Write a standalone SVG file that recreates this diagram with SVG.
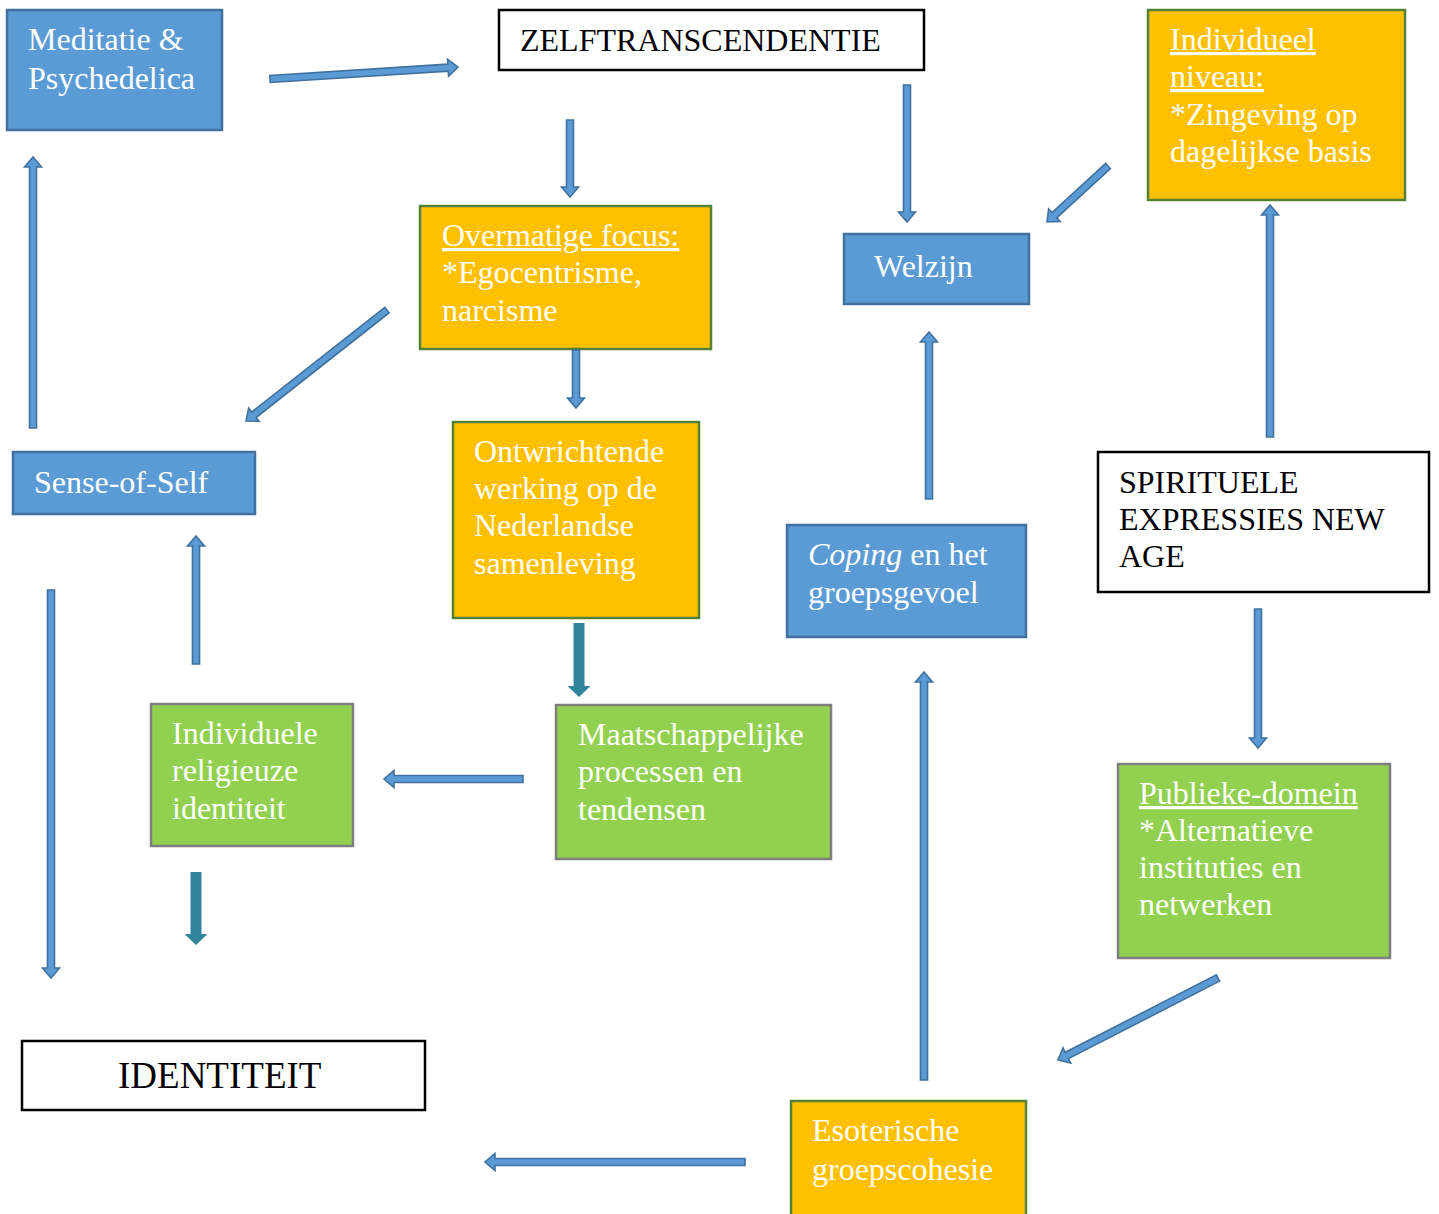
<svg xmlns="http://www.w3.org/2000/svg" width="1439" height="1214" viewBox="0 0 1439 1214">
<style>
text{font-family:"Liberation Serif","Times New Roman",serif;font-size:32px}
.w{fill:#ffffff}
.k{fill:#000000}
.blue{fill:#5b9bd5;stroke:#41719c;stroke-width:2.5}
.org{fill:#ffc000;stroke:#538135;stroke-width:2.5}
.grn{fill:#92d050;stroke:#7f7f7f;stroke-width:2.5}
.wht{fill:#ffffff;stroke:#000000;stroke-width:2.5}
.ba{fill:#5b9bd5;stroke:#41719c;stroke-width:1.6;stroke-linejoin:miter}
.ta{fill:#31849b}
.u{text-decoration:underline}
</style>
<g id="meditatie"><rect class="blue" x="7" y="10" width="215" height="120"/><text class="w" x="28" y="50">Meditatie &amp;</text><text class="w" x="28" y="89">Psychedelica</text></g>
<g id="zelftranscendentie"><rect class="wht" x="499" y="10" width="425" height="60"/><text class="k" x="520" y="51">ZELFTRANSCENDENTIE</text></g>
<g id="individueel"><rect class="org" x="1148" y="10" width="257" height="190"/><text class="w" x="1170" y="50"><tspan class="u">Individueel</tspan></text><text class="w" x="1170" y="87"><tspan class="u">niveau:</tspan></text><text class="w" x="1170" y="125">*Zingeving op</text><text class="w" x="1170" y="162">dagelijkse basis</text></g>
<g id="overmatige"><rect class="org" x="420" y="206" width="291" height="143"/><text class="w" x="442" y="246"><tspan class="u">Overmatige focus:</tspan></text><text class="w" x="442" y="283">*Egocentrisme,</text><text class="w" x="442" y="321">narcisme</text></g>
<g id="welzijn"><rect class="blue" x="844" y="234" width="185" height="70"/><text class="w" x="874" y="277">Welzijn</text></g>
<g id="senseofself"><rect class="blue" x="13" y="452" width="242" height="62"/><text class="w" x="34" y="493">Sense-of-Self</text></g>
<g id="ontwrichtende"><rect class="org" x="453" y="422" width="246" height="196"/><text class="w" x="474" y="462">Ontwrichtende</text><text class="w" x="474" y="499">werking op de</text><text class="w" x="474" y="536">Nederlandse</text><text class="w" x="474" y="574">samenleving</text></g>
<g id="coping"><rect class="blue" x="787" y="525" width="239" height="112"/><text class="w" x="808" y="565"><tspan font-style="italic">Coping</tspan> en het</text><text class="w" x="808" y="603">groepsgevoel</text></g>
<g id="spirituele"><rect class="wht" x="1098" y="452" width="331" height="140"/><text class="k" x="1119" y="493">SPIRITUELE</text><text class="k" x="1119" y="530">EXPRESSIES NEW</text><text class="k" x="1119" y="567">AGE</text></g>
<g id="individuele"><rect class="grn" x="151" y="704" width="202" height="142"/><text class="w" x="172" y="744">Individuele</text><text class="w" x="172" y="781">religieuze</text><text class="w" x="172" y="819">identiteit</text></g>
<g id="maatschappelijke"><rect class="grn" x="556" y="705" width="275" height="154"/><text class="w" x="578" y="745">Maatschappelijke</text><text class="w" x="578" y="782">processen en</text><text class="w" x="578" y="820">tendensen</text></g>
<g id="publieke"><rect class="grn" x="1118" y="764" width="272" height="194"/><text class="w" x="1139" y="804"><tspan class="u">Publieke-domein</tspan></text><text class="w" x="1139" y="841">*Alternatieve</text><text class="w" x="1139" y="878">instituties en</text><text class="w" x="1139" y="915">netwerken</text></g>
<g id="identiteit"><rect class="wht" x="22" y="1041" width="403" height="69"/><text class="k" x="118" y="1088" style="font-size:37px">IDENTITEIT</text></g>
<g id="esoterische"><rect class="org" x="791" y="1101" width="235" height="125"/><text class="w" x="812" y="1141">Esoterische</text><text class="w" x="812" y="1180">groepscohesie</text></g>
<g id="connectors">
<polygon class="ba" transform="translate(270,79) rotate(-3.65)" points="0,-3.5 178.4,-3.5 178.4,-8.5 188.4,0 178.4,8.5 178.4,3.5 0,3.5"/>
<polygon class="ba" transform="translate(570,120) rotate(90)" points="0,-3.5 67,-3.5 67,-8.5 77,0 67,8.5 67,3.5 0,3.5"/>
<polygon class="ba" transform="translate(907,85) rotate(90)" points="0,-3.5 127,-3.5 127,-8.5 137,0 127,8.5 127,3.5 0,3.5"/>
<polygon class="ba" transform="translate(1108,166) rotate(137.45)" points="0,-3.5 72.8,-3.5 72.8,-8.5 82.8,0 72.8,8.5 72.8,3.5 0,3.5"/>
<polygon class="ba" transform="translate(387,310) rotate(141.8)" points="0,-3.5 169.4,-3.5 169.4,-8.5 179.4,0 169.4,8.5 169.4,3.5 0,3.5"/>
<polygon class="ba" transform="translate(576,350) rotate(90)" points="0,-3.5 48,-3.5 48,-8.5 58,0 48,8.5 48,3.5 0,3.5"/>
<polygon class="ba" transform="translate(33,428) rotate(-90)" points="0,-3.5 261,-3.5 261,-8.5 271,0 261,8.5 261,3.5 0,3.5"/>
<polygon class="ba" transform="translate(929,499) rotate(-90)" points="0,-3.5 157,-3.5 157,-8.5 167,0 157,8.5 157,3.5 0,3.5"/>
<polygon class="ba" transform="translate(1270,437) rotate(-90)" points="0,-3.5 222,-3.5 222,-8.5 232,0 222,8.5 222,3.5 0,3.5"/>
<polygon class="ta" transform="translate(579,623) rotate(90)" points="0,-5.5 63,-5.5 63,-11.5 74,0 63,11.5 63,5.5 0,5.5"/>
<polygon class="ba" transform="translate(196,664) rotate(-90)" points="0,-3.5 118,-3.5 118,-8.5 128,0 118,8.5 118,3.5 0,3.5"/>
<polygon class="ba" transform="translate(51,590) rotate(90)" points="0,-3.5 378,-3.5 378,-8.5 388,0 378,8.5 378,3.5 0,3.5"/>
<polygon class="ba" transform="translate(523,779) rotate(180)" points="0,-3.5 129,-3.5 129,-8.5 139,0 129,8.5 129,3.5 0,3.5"/>
<polygon class="ta" transform="translate(196,872) rotate(90)" points="0,-5.5 62,-5.5 62,-11.5 73,0 62,11.5 62,5.5 0,5.5"/>
<polygon class="ba" transform="translate(1258,609) rotate(90)" points="0,-3.5 129,-3.5 129,-8.5 139,0 129,8.5 129,3.5 0,3.5"/>
<polygon class="ba" transform="translate(1218,978) rotate(152.87)" points="0,-3.5 169.8,-3.5 169.8,-8.5 179.8,0 169.8,8.5 169.8,3.5 0,3.5"/>
<polygon class="ba" transform="translate(924,1080) rotate(-90)" points="0,-3.5 398,-3.5 398,-8.5 408,0 398,8.5 398,3.5 0,3.5"/>
<polygon class="ba" transform="translate(745,1162) rotate(180)" points="0,-3.5 250,-3.5 250,-8.5 260,0 250,8.5 250,3.5 0,3.5"/>
</g>
</svg>
